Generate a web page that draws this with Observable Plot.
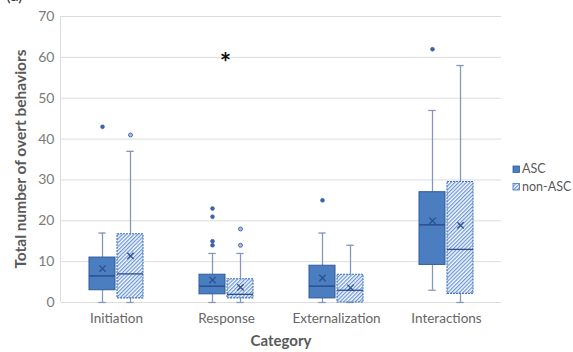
<!DOCTYPE html>
<html>
<head>
<meta charset="utf-8">
<script src="https://cdn.jsdelivr.net/npm/d3@7"></script>
<script src="https://cdn.jsdelivr.net/npm/@observablehq/plot@0.6"></script>
<style>
  html, body { margin: 0; padding: 0; background: #fff; }
  #chart { position: relative; width: 573px; height: 352px; overflow: hidden; }
</style>
</head>
<body>
<div id="chart"></div>
<script>
const categories = ["Initiation", "Response", "Externalization", "Interactions"];
const groups = ["ASC", "non-ASC"];
const yTicks = [0, 10, 20, 30, 40, 50, 60, 70];

const ascMin      = [0, 0, 0, 3];
const ascQ1       = [3, 2, 1, 9.2];
const ascMedian   = [6.5, 4, 4, 19];
const ascQ3       = [11, 6.8, 9, 27];
const ascMax      = [17, 12, 17, 47];
const ascMean     = [8.3, 5.5, 6, 20];
const ascOutliers = [[43], [23, 21, 15, 14], [25], [62]];

const nonMin      = [0, 0, 0, 0];
const nonQ1       = [1, 1, 0, 2.1];
const nonMedian   = [7, 2, 3, 13];
const nonQ3       = [16.7, 5.7, 6.8, 29.5];
const nonMax      = [37, 12, 14, 58];
const nonMean     = [11.4, 3.7, 3.6, 18.9];
const nonOutliers = [[41], [18, 14], [], []];

const significant = [{category: "Response", y: 60, label: "*"}];

// build tables
const stats = [];
const outliers = [];
categories.forEach((c, i) => {
  stats.push({category: c, group: "ASC", min: ascMin[i], q1: ascQ1[i], median: ascMedian[i], q3: ascQ3[i], max: ascMax[i], mean: ascMean[i]});
  stats.push({category: c, group: "non-ASC", min: nonMin[i], q1: nonQ1[i], median: nonMedian[i], q3: nonQ3[i], max: nonMax[i], mean: nonMean[i]});
  ascOutliers[i].forEach(v => outliers.push({category: c, group: "ASC", value: v}));
  nonOutliers[i].forEach(v => outliers.push({category: c, group: "non-ASC", value: v}));
});
const asc = stats.filter(d => d.group === "ASC");
const non = stats.filter(d => d.group === "non-ASC");

const ascFill = "#4a7ec0";
const ascStroke = "#2f5b9a";
const whisker = "#8597bb";
const dark = "#2c4f8c";
const font = "Lato, 'Open Sans', sans-serif";

const W = 573, H = 352;
const mL = 60, mR = 71, mT = 16, mB = 50;

const plot = Plot.plot({
  width: W, height: H,
  marginLeft: mL, marginRight: mR, marginTop: mT, marginBottom: mB,
  style: {fontFamily: font, fontSize: "13px", color: "#7a7a7a", background: "#fff"},
  fx: {domain: categories, padding: 0, label: null},
  x: {domain: groups, paddingInner: 0.07, paddingOuter: 0.97, axis: null},
  y: {domain: [0, 70], ticks: yTicks, label: null},
  marks: [
    Plot.gridY(yTicks, {stroke: "#dcdcdc", strokeOpacity: 1, strokeWidth: 1}),
    Plot.axisY(yTicks, {tickSize: 0, tickPadding: 7, label: null, fill: "#7a7a7a", fontSize: 14}),
    Plot.axisFx({anchor: "bottom", tickSize: 0, tickPadding: 11, label: null, fill: "#666", fontSize: 13.5}),
    // whiskers
    Plot.ruleX(stats, {fx: "category", x: "group", y1: "min", y2: "q1", stroke: whisker, strokeWidth: 1.3}),
    Plot.ruleX(stats, {fx: "category", x: "group", y1: "q3", y2: "max", stroke: whisker, strokeWidth: 1.3}),
    Plot.tickY(stats, {fx: "category", x: "group", y: "max", stroke: whisker, strokeWidth: 1.3, inset: 9.3}),
    Plot.tickY(stats, {fx: "category", x: "group", y: "min", stroke: whisker, strokeWidth: 1.3, inset: 9.3}),
    // boxes
    Plot.barY(asc, {fx: "category", x: "group", y1: "q1", y2: "q3", fill: ascFill, stroke: ascStroke, strokeWidth: 1}),
    Plot.barY(non, {fx: "category", x: "group", y1: "q1", y2: "q3", fill: "url(#hatch)", stroke: "#4374b8", strokeWidth: 1.1, strokeDasharray: "2,1"}),
    // medians
    Plot.tickY(asc, {fx: "category", x: "group", y: "median", stroke: dark, strokeWidth: 1.5}),
    Plot.tickY(non, {fx: "category", x: "group", y: "median", stroke: dark, strokeWidth: 1.3}),
    // means
    Plot.dot(stats, {fx: "category", x: "group", y: "mean", symbol: "times", r: 3, stroke: dark, strokeWidth: 1.3}),
    // outliers
    Plot.dot(outliers.filter(d => d.group === "ASC"), {fx: "category", x: "group", y: "value", r: 2, fill: "#3a64a6", stroke: "#3a64a6", strokeWidth: 0.5}),
    Plot.dot(outliers.filter(d => d.group === "non-ASC"), {fx: "category", x: "group", y: "value", r: 2, fill: "#a9c0e4", stroke: "#3a64a6", strokeWidth: 0.9}),
    // significance marker
    Plot.text(significant, {fx: "category", y: "y", text: "label", fontSize: 27, fontWeight: "bold", fill: "#111", dy: 6, dx: -1})
  ]
});

document.getElementById("chart").appendChild(plot);

const svg = d3.select(plot);
const defs = svg.insert("defs", ":first-child");
const P = 2.7;
const pat = defs.append("pattern")
  .attr("id", "hatch")
  .attr("patternUnits", "userSpaceOnUse")
  .attr("width", P).attr("height", P)
  .attr("patternTransform", "rotate(45)");
pat.append("rect").attr("width", P).attr("height", P).attr("fill", "#f6f9fd");
pat.append("line").attr("x1", 0.6).attr("y1", 0).attr("x2", 0.6).attr("y2", P)
  .attr("stroke", "#6592d3").attr("stroke-width", 1.15);

// left border of the plot area
svg.append("line")
  .attr("x1", mL + 0.5).attr("x2", mL + 0.5).attr("y1", mT).attr("y2", H - mB)
  .attr("stroke", "#dcdcdc");

// axis titles
svg.append("text")
  .attr("transform", `translate(22,${(mT + H - mB) / 2}) rotate(-90)`)
  .attr("text-anchor", "middle").attr("dominant-baseline", "middle")
  .attr("font-family", font).attr("font-size", 15.5).attr("font-weight", "bold")
  .attr("fill", "#595959")
  .text("Total number of overt behaviors");
svg.append("text")
  .attr("x", (mL + W - mR) / 2).attr("y", 342)
  .attr("text-anchor", "middle").attr("dominant-baseline", "middle")
  .attr("font-family", font).attr("font-size", 15).attr("font-weight", "bold")
  .attr("fill", "#595959")
  .text("Category");

// partially cropped panel label (cropped in the reference too)
svg.append("text")
  .attr("x", 6).attr("y", 1).attr("text-anchor", "start")
  .attr("font-family", font).attr("font-size", 17)
  .attr("fill", "#333")
  .text("(a)");

// legend
const leg = svg.append("g").attr("font-family", font).attr("font-size", 12.5).attr("fill", "#595959");
const legItems = [
  {label: groups[0], fill: ascFill, stroke: ascStroke, y: 169.5},
  {label: groups[1], fill: "url(#hatch)", stroke: "#4374b8", y: 187}
];
legItems.forEach(it => {
  leg.append("rect").attr("x", 513).attr("y", it.y - 3.5).attr("width", 6.5).attr("height", 6.5)
    .attr("fill", it.fill).attr("stroke", it.stroke).attr("stroke-width", 0.8);
  leg.append("text").attr("x", 522).attr("y", it.y + 0.5).attr("text-anchor", "start")
    .attr("dominant-baseline", "middle").text(it.label);
});
</script>
</body>
</html>
